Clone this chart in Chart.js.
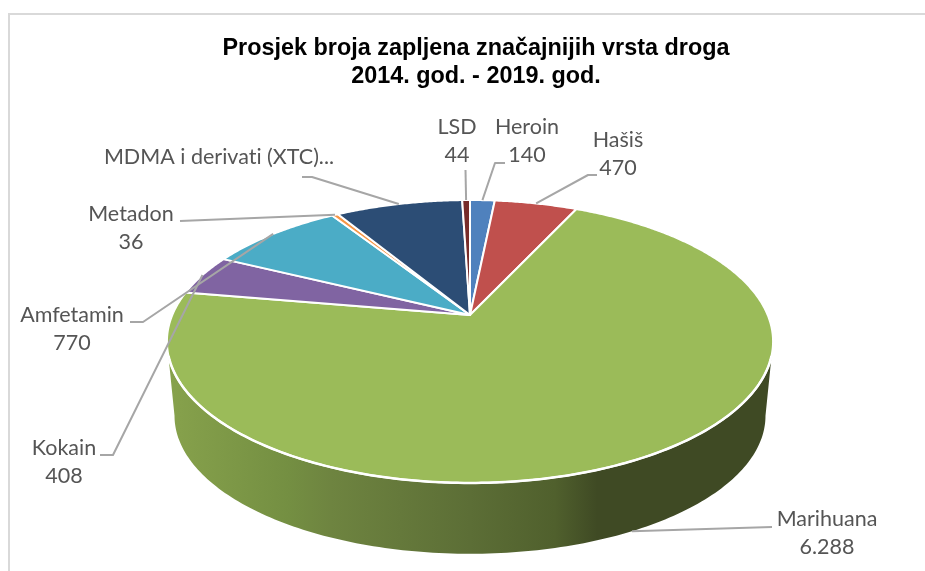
<!DOCTYPE html>
<html>
<head>
<meta charset="utf-8">
<style>
  html, body { margin: 0; background: #fff; overflow: hidden; }
  #frame { position: absolute; left: 8px; top: 13px; width: 930px; height: 570px; border: 2px solid #d9d9d9; }
  #pie { position: absolute; left: 0; top: 0; }
</style>
</head>
<body>
<div id="frame"></div>
<canvas id="pie" width="925" height="571"></canvas>
<script src="https://cdn.jsdelivr.net/npm/chart.js@4"></script>
<script>
const titleLines = ['Prosjek broja zapljena značajnijih vrsta droga', '2014. god. - 2019. god.'];
const categories = ['Heroin', 'Hašiš', 'Marihuana', 'Kokain', 'Amfetamin', 'Metadon', 'MDMA i derivati (XTC)...', 'LSD'];
const values = [140, 470, 6288, 408, 770, 36, 720, 44];
const colors = ['#4f81bd', '#c0504d', '#9bbb59', '#8064a2', '#4bacc6', '#f79646', '#2c4d75', '#772c2a'];
const showValue = [true, true, true, true, true, true, false, true];

// where each label and the bend of its leader line sit
const labelLayout = [
  { x: 527, y: 127, bend: [[495, 163], [505, 163]] },
  { x: 618, y: 140, bend: [[588, 175], [597, 175]] },
  { x: 827, y: 519, bend: [[772, 527]], onSide: true },
  { x: 64, y: 448, bend: [[113, 455], [100, 455]] },
  { x: 72, y: 315, bend: [[143, 322], [130, 322]] },
  { x: 131, y: 214, bend: [[180, 221]] },
  { x: 219, y: 157, bend: [[312, 177], [302, 177]] },
  { x: 457, y: 127, bend: [[465.5, 170]] }
];

// perspective of the pie: apex, size of the disc, tilt and thickness
const apexX = 470, apexY = 315;
const scaleX = 297.7, scaleY = 136.5, tilt = 0.1873;
const bottomScale = 0.975, bottomDrop = 75;

const project = (theta, r) => {
  const u = Math.sin(theta) * r, v = Math.cos(theta) * r;
  const w = 1 + tilt * v;
  return [apexX + scaleX * u / w, apexY - scaleY * v / w];
};

const projectBottom = (theta) => {
  const p = project(theta, 1);
  return [apexX + (p[0] - apexX) * bottomScale, apexY + (p[1] - apexY) * bottomScale + bottomDrop];
};

const drawSide = (ctx, from, to) => {
  const grad = ctx.createLinearGradient(apexX - 303, 0, apexX + 303, 0);
  grad.addColorStop(0, '#87a24c');
  grad.addColorStop(0.2, '#748f42');
  grad.addColorStop(0.27, '#6e8440');
  grad.addColorStop(0.5, '#5c6e36');
  grad.addColorStop(0.64, '#50602d');
  grad.addColorStop(0.71, '#3f4a24');
  grad.addColorStop(1, '#3f4a24');
  ctx.beginPath();
  const steps = 160;
  for (let i = 0; i <= steps; i++) {
    const p = project(from + (to - from) * i / steps, 1);
    i ? ctx.lineTo(p[0], p[1]) : ctx.moveTo(p[0], p[1]);
  }
  for (let i = steps; i >= 0; i--) {
    const p = projectBottom(from + (to - from) * i / steps);
    ctx.lineTo(p[0], p[1]);
  }
  ctx.closePath();
  ctx.fillStyle = grad;
  ctx.fill();
};

const drawFrontEdge = (ctx, from, to) => {
  ctx.beginPath();
  const steps = 160;
  for (let i = 0; i <= steps; i++) {
    const p = project(from + (to - from) * i / steps, 1);
    i ? ctx.lineTo(p[0], p[1]) : ctx.moveTo(p[0], p[1]);
  }
  ctx.lineWidth = 2.5;
  ctx.strokeStyle = '#fff';
  ctx.stroke();
};

const drawSlice = (ctx, from, to, color) => {
  ctx.beginPath();
  ctx.moveTo(apexX, apexY);
  const steps = Math.max(2, Math.ceil((to - from) * 120));
  for (let i = 0; i <= steps; i++) {
    const p = project(from + (to - from) * i / steps, 1);
    ctx.lineTo(p[0], p[1]);
  }
  ctx.closePath();
  ctx.fillStyle = color;
  ctx.fill();
  ctx.lineWidth = 2;
  ctx.strokeStyle = '#fff';
  ctx.lineJoin = 'round';
  ctx.stroke();
};

const pie3d = {
  id: 'pie3d',
  beforeDatasetsDraw(chart) {
    const ctx = chart.ctx;
    const arcs = chart.getDatasetMeta(0).data;
    const rightEdge = Math.acos(-tilt), leftEdge = 2 * Math.PI - rightEdge;
    ctx.save();

    arcs.forEach((arc) => {
      const from = arc.startAngle + Math.PI / 2, to = arc.endAngle + Math.PI / 2;
      const a = Math.max(from, rightEdge), b = Math.min(to, leftEdge);
      if (b > a) drawSide(ctx, a, b);
    });
    arcs.forEach((arc, i) => {
      drawSlice(ctx, arc.startAngle + Math.PI / 2, arc.endAngle + Math.PI / 2, colors[i]);
    });
    drawFrontEdge(ctx, rightEdge + 0.1, leftEdge - 0.1);

    // leader lines start from the middle of each slice
    ctx.strokeStyle = '#a6a6a6';
    ctx.lineWidth = 2;
    arcs.forEach((arc, i) => {
      const mid = (arc.startAngle + arc.endAngle) / 2 + Math.PI / 2;
      const layout = labelLayout[i];
      const start = layout.onSide ? projectBottom(mid) : project(mid, 1);
      ctx.beginPath();
      ctx.moveTo(start[0], start[1]);
      layout.bend.forEach((p) => ctx.lineTo(p[0], p[1]));
      ctx.stroke();
    });

    ctx.fillStyle = '#555';
    ctx.font = '21.5px Lato';
    ctx.textRendering = 'optimizeSpeed';
    ctx.textAlign = 'center';
    ctx.textBaseline = 'middle';
    categories.forEach((name, i) => {
      const layout = labelLayout[i];
      ctx.fillText(name, layout.x, layout.y);
      if (showValue[i]) {
        ctx.fillText(values[i].toLocaleString('de-DE'), layout.x, layout.y + 28);
      }
    });
    ctx.restore();
    return false;
  }
};

new Chart(document.getElementById('pie'), {
  type: 'pie',
  data: {
    labels: categories,
    datasets: [{ data: values, backgroundColor: colors, borderColor: '#fff' }]
  },
  options: {
    responsive: false,
    animation: false,
    rotation: 0,
    layout: { padding: { left: 27 } },
    plugins: {
      legend: { display: false },
      tooltip: { enabled: false },
      title: {
        display: true,
        text: titleLines,
        color: '#000',
        font: { family: 'Liberation Sans', size: 23.4, weight: 'bold', lineHeight: 1.17 },
        padding: { top: 35, bottom: 10 }
      }
    }
  },
  plugins: [pie3d]
});
</script>
</body>
</html>
